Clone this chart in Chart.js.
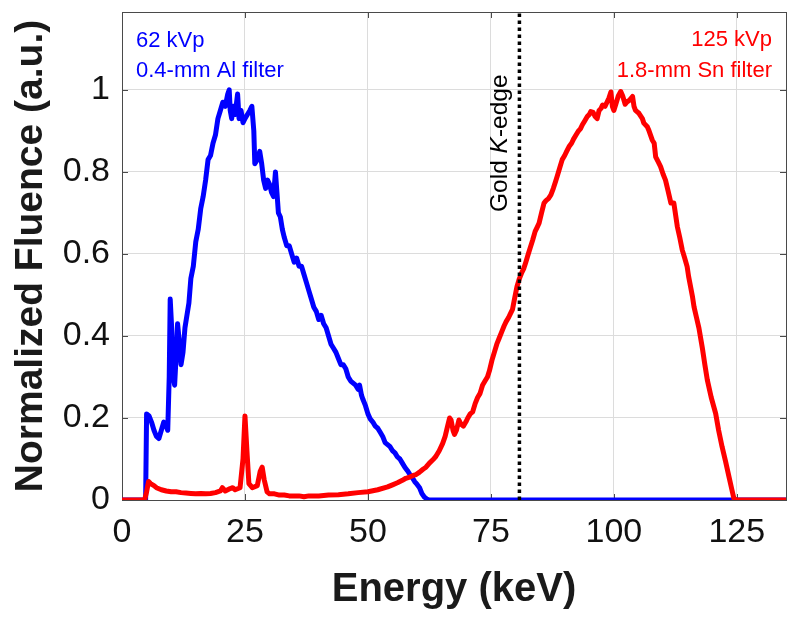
<!DOCTYPE html>
<html><head><meta charset="utf-8">
<script src="https://cdn.jsdelivr.net/npm/chart.js@4"></script>
<style>html,body{margin:0;padding:0;background:#fff;} canvas{display:block;}</style>
</head><body>
<canvas id="c" width="800" height="619"></canvas>
<script>
// ---- data ----
const blueEnergy = [0,4.8,5.0,5.5,6.0,6.5,7.0,7.5,8.0,8.5,9.0,9.3,9.6,9.8,10.1,10.4,10.7,11.0,11.3,11.7,12.0,12.4,12.8,13.2,13.6,14.0,14.5,15.0,15.5,16.0,16.5,17.0,17.5,18.0,18.5,19.0,19.5,20.0,20.5,21.0,21.5,21.8,22.0,22.3,22.6,23.0,23.5,23.8,24.2,24.6,25.0,25.5,26.0,26.4,26.8,27.0,27.5,28.0,28.4,28.8,29.2,29.6,30.0,30.4,30.8,31.2,31.5,31.8,32.2,32.6,33.0,33.5,34.0,34.5,35.0,35.5,36.0,36.5,37.0,37.5,38.0,38.5,39.0,39.5,40.0,40.5,41.0,41.5,42.0,42.5,43.0,43.5,44.0,44.5,45.0,45.5,46.0,46.5,47.0,47.5,48.0,48.3,48.7,49.0,49.5,50.0,50.5,51.0,51.5,52.0,52.5,53.0,53.5,54.0,54.5,55.0,55.5,56.0,56.5,57.0,57.5,58.0,58.5,59.0,59.5,60.0,60.5,61.0,61.5,62.0,62.5,135];
const blueFluence = [0,0,0.21,0.205,0.19,0.17,0.155,0.15,0.17,0.19,0.18,0.17,0.30,0.49,0.42,0.30,0.28,0.35,0.43,0.38,0.33,0.36,0.42,0.45,0.48,0.54,0.57,0.63,0.66,0.71,0.74,0.78,0.83,0.84,0.87,0.89,0.93,0.95,0.97,0.96,0.99,1.0,0.95,0.93,0.96,0.94,0.99,0.93,0.95,0.92,0.93,0.94,0.95,0.96,0.90,0.82,0.83,0.85,0.82,0.78,0.76,0.78,0.77,0.75,0.74,0.80,0.75,0.70,0.69,0.66,0.64,0.62,0.62,0.60,0.58,0.59,0.57,0.57,0.55,0.53,0.51,0.49,0.47,0.46,0.44,0.45,0.43,0.42,0.40,0.38,0.37,0.36,0.345,0.33,0.33,0.32,0.30,0.29,0.285,0.28,0.27,0.28,0.255,0.245,0.23,0.21,0.197,0.19,0.18,0.175,0.165,0.155,0.14,0.135,0.13,0.12,0.115,0.105,0.10,0.09,0.08,0.072,0.063,0.055,0.045,0.038,0.03,0.015,0.007,0.002,0,0];

const redEnergy = [0,4.6,5.0,5.4,5.8,6.5,7.0,8.0,9.0,10.0,11.0,12.0,13.0,14.0,15.0,16.0,17.0,18.0,19.0,20.0,20.4,21.0,22.0,22.5,23.0,24.0,24.6,25.0,25.4,25.8,26.5,27.5,28.1,28.5,28.9,29.5,30,31,32,33,34,35,36,37,38,39,40,42,44,46,48,50,52,54,55,56,57,57.7,58.5,59.2,59.8,60.5,61.2,61.8,62.5,63.2,63.8,64.5,65.2,65.7,66.2,66.6,66.9,67.3,67.6,68.0,68.5,68.9,69.4,69.9,70.3,70.8,71.3,71.8,72.3,72.8,73.3,73.8,74.3,74.7,75.2,75.7,76.2,76.7,77.2,77.7,78.1,78.6,79.0,79.4,79.8,80.3,80.8,81.3,81.7,82.1,82.6,83.0,83.5,84.0,84.4,84.8,85.3,85.8,86.2,86.7,87.2,87.7,88.1,88.5,89.0,89.5,90.0,90.4,90.9,91.4,91.8,92.3,92.8,93.2,93.6,94.1,94.6,95.0,95.3,95.8,96.2,96.6,97.0,97.4,97.7,98.2,98.6,99.0,99.4,99.7,100.0,100.4,100.9,101.4,101.8,102.3,102.7,103.2,103.8,104.1,104.4,105.1,105.8,106.1,106.8,107.1,107.8,108.2,108.5,109.0,109.5,110.0,110.5,111.0,111.6,112.2,112.9,113.4,113.9,114.4,114.9,115.2,115.6,116.0,116.3,116.8,117.3,118.0,118.5,119.0,119.8,120.7,121.3,122.0,122.7,123.4,124.0,124.4,125,135];
const redFluence = [0,0,0.02,0.045,0.04,0.035,0.03,0.025,0.022,0.02,0.02,0.018,0.017,0.016,0.015,0.016,0.015,0.016,0.018,0.022,0.03,0.022,0.028,0.03,0.025,0.03,0.10,0.205,0.12,0.04,0.03,0.035,0.07,0.08,0.05,0.02,0.015,0.015,0.012,0.012,0.01,0.01,0.01,0.008,0.01,0.01,0.01,0.012,0.013,0.015,0.018,0.02,0.025,0.032,0.037,0.042,0.048,0.053,0.056,0.06,0.062,0.068,0.075,0.08,0.09,0.098,0.106,0.12,0.138,0.155,0.18,0.2,0.195,0.17,0.16,0.17,0.195,0.185,0.18,0.19,0.2,0.21,0.215,0.235,0.25,0.26,0.28,0.29,0.30,0.315,0.34,0.36,0.38,0.395,0.41,0.425,0.435,0.445,0.455,0.465,0.49,0.52,0.54,0.555,0.565,0.58,0.6,0.615,0.634,0.655,0.665,0.675,0.70,0.724,0.73,0.735,0.744,0.76,0.775,0.79,0.81,0.83,0.84,0.85,0.862,0.87,0.88,0.89,0.90,0.905,0.915,0.925,0.935,0.94,0.947,0.945,0.935,0.93,0.95,0.955,0.963,0.96,0.97,0.98,0.995,0.96,0.95,0.965,0.985,0.996,0.985,0.965,0.971,0.975,0.984,0.96,0.95,0.943,0.93,0.919,0.91,0.902,0.878,0.87,0.837,0.825,0.813,0.795,0.78,0.755,0.724,0.724,0.667,0.64,0.61,0.59,0.569,0.545,0.52,0.495,0.471,0.445,0.419,0.37,0.33,0.293,0.25,0.211,0.17,0.13,0.095,0.057,0.025,0.004,0,0];

const goldKEdgeEnergy = [80.8, 80.8];
const goldKEdgeSpan = [0, 1.19];

const xTicks = [0, 25, 50, 75, 100, 125];
const xTickLabels = ['0', '25', '50', '75', '100', '125'];
const yTicks = [0, 0.2, 0.4, 0.6, 0.8, 1];
const yTickLabels = ['0', '0.2', '0.4', '0.6', '0.8', '1'];

const xRange = [0, 135];
const yRange = [0, 1.19];

const xTitle = 'Energy (keV)';
const yTitle = 'Normalized Fluence (a.u.)';
const blueLabel = ['62 kVp', '0.4-mm Al filter'];
const redLabel = ['125 kVp', '1.8-mm Sn filter'];

const BLUE = 'rgb(0,0,255)';
const RED = 'rgb(255,0,0)';
const FONT = '"Liberation Sans", Arial, Helvetica, sans-serif';

function pairs(xs, ys) { return xs.map((v, i) => ({x: v, y: ys[i]})); }

const frameTicks = {
  id: 'frameTicks',
  beforeDatasetsDraw(chart) {
    const {ctx, chartArea: a, scales: {x, y}} = chart;
    const L = 6;
    ctx.save();
    ctx.strokeStyle = '#4a4a4a';
    ctx.lineWidth = 1;
    ctx.beginPath();
    x.ticks.forEach(t => {
      const p = Math.round(x.getPixelForValue(t.value)) + 0.5;
      ctx.moveTo(p, a.bottom); ctx.lineTo(p, a.bottom - L);
      ctx.moveTo(p, a.top); ctx.lineTo(p, a.top + L);
    });
    y.ticks.forEach(t => {
      const p = Math.round(y.getPixelForValue(t.value)) + 0.5;
      ctx.moveTo(a.left, p); ctx.lineTo(a.left + L, p);
      ctx.moveTo(a.right, p); ctx.lineTo(a.right - L, p);
    });
    ctx.stroke();
    ctx.strokeRect(Math.round(a.left) + 0.5, Math.round(a.top) + 0.5, Math.round(a.right - a.left), Math.round(a.bottom - a.top));
    ctx.restore();
  },
  afterDraw(chart) {
    const {ctx, chartArea: a, scales: {x}} = chart;
    ctx.save();
    ctx.font = '22px ' + FONT;
    ctx.textBaseline = 'alphabetic';
    ctx.fillStyle = BLUE;
    ctx.textAlign = 'left';
    ctx.fillText(blueLabel[0], a.left + 14, a.top + 35);
    ctx.fillText(blueLabel[1], a.left + 14, a.top + 65);
    ctx.fillStyle = RED;
    ctx.textAlign = 'right';
    ctx.fillText(redLabel[0], a.right - 14, a.top + 34);
    ctx.fillText(redLabel[1], a.right - 14, a.top + 65);
    // rotated Gold K-edge label
    const kx = x.getPixelForValue(goldKEdgeEnergy[0]);
    ctx.translate(kx - 12.5, a.top + 200);
    ctx.rotate(-Math.PI / 2);
    ctx.fillStyle = '#000';
    ctx.textAlign = 'left';
    const normal = '24.5px ' + FONT, ital = 'italic 24.5px ' + FONT;
    let pos = 0;
    [['Gold ', normal], ['K', ital], ['-edge', normal]].forEach(([s, f]) => {
      ctx.font = f;
      ctx.fillText(s, pos, 0);
      pos += ctx.measureText(s).width;
    });
    ctx.restore();
  }
};

new Chart(document.getElementById('c'), {
  type: 'line',
  data: {
    datasets: [
      {
        label: 'Gold K-edge',
        data: pairs(goldKEdgeEnergy, goldKEdgeSpan),
        borderColor: '#000', borderWidth: 3.5, borderDash: [3.5, 3.5],
        pointRadius: 0, fill: false, tension: 0, borderCapStyle: 'butt'
      },
      {
        label: '125 kVp',
        data: pairs(redEnergy, redFluence),
        borderColor: RED, borderWidth: 5, pointRadius: 0, fill: false, tension: 0,
        borderJoinStyle: 'round', borderCapStyle: 'round'
      },
      {
        label: '62 kVp',
        data: pairs(blueEnergy, blueFluence),
        borderColor: BLUE, borderWidth: 5, pointRadius: 0, fill: false, tension: 0,
        borderJoinStyle: 'round', borderCapStyle: 'round'
      }
    ]
  },
  options: {
    responsive: false,
    animation: false,
    events: [],
    layout: {padding: {top: 12, right: 14, left: 0, bottom: 0}},
    plugins: {legend: {display: false}, tooltip: {enabled: false}},
    scales: {
      x: {
        type: 'linear', min: xRange[0], max: xRange[1],
        afterBuildTicks: s => { s.ticks = xTicks.map(v => ({value: v})); },
        afterFit: s => { s.height = 119; s.paddingLeft = 0; s.paddingRight = 0; },
        grid: {color: '#dcdcdc', lineWidth: 1, drawTicks: false},
        border: {display: false},
        ticks: {
          padding: 12, color: '#111', font: {family: FONT, size: 34},
          maxRotation: 0, autoSkip: false,
          callback: (v) => { const i = xTicks.indexOf(v); return i >= 0 ? xTickLabels[i] : ''; }
        },
        title: {display: true, text: xTitle, color: '#1a1a1a', font: {family: FONT, size: 40, weight: 'bold'}, padding: {top: 0, bottom: 5}}
      },
      y: {
        type: 'linear', min: yRange[0], max: yRange[1],
        afterBuildTicks: s => { s.ticks = yTicks.map(v => ({value: v})); },
        afterFit: s => { s.width = 122; s.paddingTop = 0; s.paddingBottom = 0; },
        grid: {color: '#dcdcdc', lineWidth: 1, drawTicks: false},
        border: {display: false},
        ticks: {
          padding: 12, color: '#111', font: {family: FONT, size: 34},
          autoSkip: false,
          callback: (v) => { const i = yTicks.findIndex(t => Math.abs(t - v) < 1e-9); return i >= 0 ? yTickLabels[i] : ''; }
        },
        title: {display: true, text: yTitle, color: '#1a1a1a', font: {family: FONT, size: 39, weight: 'bold'}, padding: {top: 8, bottom: 0}}
      }
    }
  },
  plugins: [frameTicks]
});
</script>
</body></html>
